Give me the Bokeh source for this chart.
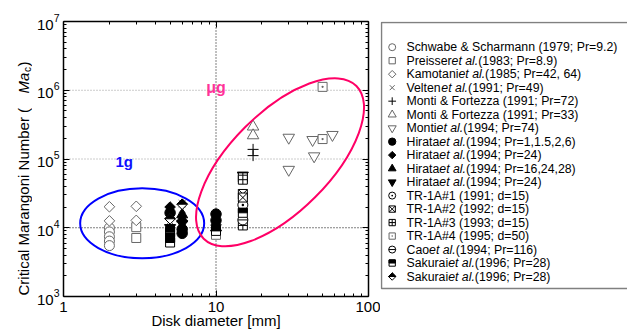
import math
from bokeh.plotting import figure
from bokeh.models import (Range1d, FixedTicker, LogAxis, Span,
                          PrintfTickFormatter, LogTickFormatter)
from bokeh.layouts import row
from bokeh.core.properties import value
from bokeh.embed import file_html
from bokeh.resources import INLINE

# ---------------- data ----------------
x_ticks = [1, 10, 100]
y_ticks = [1e3, 1e4, 1e5, 1e6, 1e7]

schwabe_x = [2, 2, 2, 2, 2]
schwabe_y = [10000, 8700, 7400, 6400, 5500]
preisser_x = [3, 3, 10]
preisser_y = [10200, 7100, 7900]
kamotani_x = [2, 2, 3, 3]
kamotani_y = [20200, 12600, 20500, 12800]
velten_x = [5, 6, 6]
velten_y = [12500, 22500, 18500]
monti72_x = [17.5, 17.5]
monti72_y = [138000, 112000]
monti33_x = [17.5, 17.5]
monti33_y = [295000, 220000]
monti94_x = [30, 30, 43, 44, 58]
monti94_y = [205000, 70000, 190000, 110000, 225000]
hirata_c_x = [5, 6, 6, 10, 10]
hirata_c_y = [16500, 9500, 8300, 15800, 12800]
hirata_d_x = [5, 10]
hirata_d_y = [20000, 11000]
hirata_t_x = [6, 6, 10]
hirata_t_y = [15500, 13500, 10000]
hirata_v_x = [5, 6, 15]
hirata_v_y = [10000, 11500, 58000]
tr1_x = [15]
tr1_y = [21500]
tr2_x = [15, 15]
tr2_y = [31000, 27500]
tr3_x = [15, 15, 15]
tr3_y = [54000, 50000, 10800]
tr4_x = [50, 50]
tr4_y = [1120000, 195000]
cao_x = [15]
cao_y = [13000]
sakurai1_x = [5, 5, 5, 10, 15]
sakurai1_y = [8700, 7200, 6100, 9000, 16500]
sakurai2_x = [5, 6]
sakurai2_y = [13500, 22000]

legend_labels = [
    "Schwabe & Scharmann (1979; Pr=9.2)",
    "Preisseret al.(1983; Pr=8.9)",
    "Kamotaniet al.(1985; Pr=42, 64)",
    "Veltenet al.(1991; Pr=49)",
    "Monti & Fortezza (1991; Pr=72)",
    "Monti & Fortezza (1991; Pr=33)",
    "Montiet al.(1994; Pr=74)",
    "Hirataet al.(1994; Pr=1,1.5,2,6)",
    "Hirataet al.(1994; Pr=24)",
    "Hirataet al.(1994; Pr=16,24,28)",
    "Hirataet al.(1994; Pr=24)",
    "TR-1A#1 (1991; d=15)",
    "TR-1A#2 (1992; d=15)",
    "TR-1A#3 (1993; d=15)",
    "TR-1A#4 (1995; d=50)",
    "Caoet al.(1994; Pr=116)",
    "Sakuraiet al.(1996; Pr=28)",
    "Sakuraiet al.(1996; Pr=28)",
]

x_title = "Disk diameter [mm]"
y_title_parts = ["Critical Marangoni Number (", "Ma", "c", " )"]

region_labels = ["1g", "\u03bcg"]
region_x = [2.5, 10]
region_y = [91000, 1090000]
ellipse_x = [3.28, 26.3]
ellipse_y = [11600, 89500]

# ---------------- styles ----------------
GRAY = "#666666"
FONT = "Liberation Sans"
series = [
    (schwabe_x, schwabe_y, "o"),
    (preisser_x, preisser_y, "s"),
    (kamotani_x, kamotani_y, "d"),
    (velten_x, velten_y, "x"),
    (monti72_x, monti72_y, "+"),
    (monti33_x, monti33_y, "t"),
    (monti94_x, monti94_y, "v"),
    (hirata_c_x, hirata_c_y, "O"),
    (hirata_d_x, hirata_d_y, "D"),
    (hirata_t_x, hirata_t_y, "T"),
    (hirata_v_x, hirata_v_y, "V"),
    (tr1_x, tr1_y, "cdot"),
    (tr2_x, tr2_y, "sx"),
    (tr3_x, tr3_y, "scross"),
    (tr4_x, tr4_y, "sdot"),
    (cao_x, cao_y, "cminus"),
    (sakurai1_x, sakurai1_y, "shalf"),
    (sakurai2_x, sakurai2_y, "dhalf"),
]


def draw_marker(fig, xs, ys, kind, size, sx, sy):
    xs = list(xs); ys = list(ys)
    lw = 1
    if kind == "o":
        fig.scatter(xs, ys, marker="circle", size=size, fill_color="white", line_color=GRAY, line_width=lw)
    elif kind == "s":
        fig.scatter(xs, ys, marker="square", size=size * 0.9, fill_color="white", line_color=GRAY, line_width=lw)
    elif kind == "d":
        fig.scatter(xs, ys, marker="square", angle=math.pi / 4, size=size * 0.75, fill_color="white", line_color=GRAY, line_width=lw)
    elif kind == "x":
        fig.scatter(xs, ys, marker="x", size=size, line_color=GRAY, line_width=lw)
    elif kind == "+":
        fig.scatter(xs, ys, marker="cross", size=size * 1.1, line_color="black", line_width=lw)
    elif kind == "t":
        fig.scatter(xs, ys, marker="triangle", size=size * 1.15, fill_color="white", line_color=GRAY, line_width=lw)
    elif kind == "v":
        fig.scatter(xs, ys, marker="inverted_triangle", size=size * 1.15, fill_color="white", line_color=GRAY, line_width=lw)
    elif kind == "O":
        fig.scatter(xs, ys, marker="circle", size=size * 1.05, fill_color="black", line_color="black", line_width=lw)
    elif kind == "D":
        fig.scatter(xs, ys, marker="square", angle=math.pi / 4, size=size * 0.75, fill_color="black", line_color="black", line_width=lw)
    elif kind == "T":
        fig.scatter(xs, ys, marker="triangle", size=size * 1.1, fill_color="black", line_color="black", line_width=lw)
    elif kind == "V":
        fig.scatter(xs, ys, marker="inverted_triangle", size=size * 1.1, fill_color="black", line_color="black", line_width=lw)
    elif kind == "cdot":
        fig.scatter(xs, ys, marker="circle_dot", size=size, fill_color="white", line_color="black", line_width=lw)
    elif kind == "sx":
        fig.scatter(xs, ys, marker="square_x", size=size * 0.9, fill_color="white", line_color="black", line_width=lw)
    elif kind == "scross":
        fig.scatter(xs, ys, marker="square_cross", size=size * 0.9, fill_color="white", line_color="black", line_width=lw)
    elif kind == "sdot":
        fig.scatter(xs, ys, marker="square_dot", size=size * 0.9, fill_color="white", line_color=GRAY, line_width=lw)
    elif kind == "cminus":
        fig.scatter(xs, ys, marker="circle", size=size, fill_color="white", line_color="black", line_width=lw)
        fig.scatter(xs, ys, marker="dash", size=size, line_color="black", line_width=lw)
    elif kind == "shalf":
        s = size * 0.9
        fig.scatter(xs, ys, marker="square", size=s, fill_color="white", line_color="black", line_width=lw)
        h = s / 2
        fig.quad(left=[sx(x, -h) for x in xs], right=[sx(x, h) for x in xs],
                 bottom=ys, top=[sy(y, h) for y in ys],
                 fill_color="black", line_color="black", line_width=lw)
    elif kind == "dhalf":
        s = size * 0.75
        fig.scatter(xs, ys, marker="square", angle=math.pi / 4, size=s, fill_color="white", line_color="black", line_width=lw)
        r = s * 0.7071
        fig.patches(xs=[[sx(x, -r), x, sx(x, r)] for x in xs],
                    ys=[[y, sy(y, r), y] for y in ys],
                    fill_color="black", line_color="black", line_width=lw)


H_ALL = 333
BT, BB = 21, 37          # shared top / bottom borders (frames are aligned in the row)

# ---------------- y title panel ----------------
W_YT = 32
yt = figure(width=W_YT, height=H_ALL, x_range=Range1d(0, W_YT), y_range=Range1d(BB, H_ALL - BT),
            output_backend="svg", toolbar_location=None, title=None,
            x_axis_location=None, y_axis_location=None,
            min_border_left=0, min_border_right=0, min_border_top=BT, min_border_bottom=BB)
yt.outline_line_color = None
yt.xgrid.visible = False
yt.ygrid.visible = False
YX = 22.5
# positions along the (rotated) title, as page y of each piece's start
piece_page_y = [295, 93, 71.5, 66]
yt.text(x=[YX], y=[H_ALL - piece_page_y[0]], text=[y_title_parts[0]], angle=math.pi / 2,
        text_font=value(FONT), text_font_size="15px", text_align="left", text_baseline="middle",
        text_color="black")
yt.text(x=[YX], y=[H_ALL - piece_page_y[1]], text=[y_title_parts[1]], angle=math.pi / 2,
        text_font=value(FONT), text_font_style="italic", text_font_size="15px",
        text_align="left", text_baseline="middle", text_color="black")
yt.text(x=[YX + 4], y=[H_ALL - piece_page_y[2]], text=[y_title_parts[2]], angle=math.pi / 2,
        text_font=value(FONT), text_font_size="10px", text_align="left", text_baseline="middle",
        text_color="black")
yt.text(x=[YX], y=[H_ALL - piece_page_y[3]], text=[y_title_parts[3]], angle=math.pi / 2,
        text_font=value(FONT), text_font_size="15px", text_align="left", text_baseline="middle",
        text_color="black")

# ---------------- main plot ----------------
W_MAIN = 380 - W_YT
BL, BR = 63 - W_YT, 12
frame_w = W_MAIN - BL - BR
frame_h = H_ALL - BT - BB
px_dec_x = frame_w / 2.0
px_dec_y = frame_h / 4.0

p = figure(width=W_MAIN, height=H_ALL, x_axis_type="log", y_axis_type="log",
           x_range=Range1d(1, 100), y_range=Range1d(1e3, 1e7),
           output_backend="svg", toolbar_location=None, title=None,
           min_border_left=BL, min_border_right=BR, min_border_top=BT, min_border_bottom=BB)
p.outline_line_color = None
p.xgrid.visible = False
p.ygrid.visible = False

x_minor = [k * 10 ** e for e in (0, 1) for k in range(2, 10)]
y_minor = [k * 10 ** e for e in (3, 4, 5, 6) for k in range(2, 10)]

for ax in (p.xaxis[0], p.yaxis[0]):
    ax.major_tick_in = 6
    ax.major_tick_out = 0
    ax.minor_tick_in = 3
    ax.minor_tick_out = 0
    ax.axis_line_width = 1.5
    ax.major_tick_line_width = 1
    ax.major_label_text_font = FONT
    ax.major_label_text_font_size = "15px"
    ax.major_label_text_color = "black"

p.xaxis[0].major_label_standoff = 5
p.yaxis[0].major_label_standoff = 4
p.xaxis[0].ticker = FixedTicker(ticks=x_ticks, minor_ticks=x_minor)
p.xaxis[0].formatter = PrintfTickFormatter(format="%d")
p.xaxis[0].axis_label = x_title
p.xaxis[0].axis_label_text_font = FONT
p.xaxis[0].axis_label_text_font_size = "15px"
p.xaxis[0].axis_label_text_font_style = "normal"
p.xaxis[0].axis_label_text_color = "black"
p.xaxis[0].axis_label_standoff = -3
p.yaxis[0].ticker = FixedTicker(ticks=y_ticks, minor_ticks=y_minor)
p.yaxis[0].formatter = LogTickFormatter()

top_ax = LogAxis(ticker=FixedTicker(ticks=x_ticks, minor_ticks=x_minor),
                 major_label_text_font_size="1px", major_label_text_alpha=0, major_label_standoff=0,
                 major_tick_in=6, major_tick_out=0, minor_tick_in=3, minor_tick_out=0,
                 axis_line_width=1.5)
right_ax = LogAxis(ticker=FixedTicker(ticks=y_ticks, minor_ticks=y_minor),
                   major_label_text_font_size="1px", major_label_text_alpha=0, major_label_standoff=0,
                   major_tick_in=6, major_tick_out=0, minor_tick_in=3, minor_tick_out=0,
                   axis_line_width=1.5)
p.add_layout(top_ax, "above")
p.add_layout(right_ax, "right")

# reference lines
p.add_layout(Span(location=1e5, dimension="width", line_color="#999999", line_dash="1 2", line_width=1, level="underlay"))
p.add_layout(Span(location=1e6, dimension="width", line_color="#999999", line_dash="1 2", line_width=1, level="underlay"))
p.add_layout(Span(location=1e4, dimension="width", line_color="black", line_dash="1 2", line_width=1, level="underlay"))
p.add_layout(Span(location=10, dimension="height", line_color="black", line_dash="1 2", line_width=1, level="underlay"))


def sx_log(x, d):
    return x * 10 ** (d / px_dec_x)


def sy_log(y, d):
    return y * 10 ** (d / px_dec_y)


for xs, ys, kind in series:
    draw_marker(p, xs, ys, kind, 10, sx_log, sy_log)

# region ellipses
p.ellipse(x=ellipse_x[:1], y=ellipse_y[:1], width=124, height=70, width_units="screen",
          height_units="screen", fill_color=None, line_color="#0000ff", line_width=2)
p.ellipse(x=ellipse_x[1:], y=ellipse_y[1:], width=216, height=99, angle=math.pi / 4,
          width_units="screen", height_units="screen", fill_color=None,
          line_color="#ff0066", line_width=2)
p.text(x=region_x[:1], y=region_y[:1], text=region_labels[:1], text_color="#1010ff",
       text_font=value(FONT), text_font_style="bold", text_font_size="15px",
       text_align="center", text_baseline="middle")
p.text(x=region_x[1:], y=region_y[1:], text=region_labels[1:], text_color="#ff3399",
       text_font=value(FONT), text_font_style="bold", text_font_size="16px",
       text_align="center", text_baseline="middle")

# ---------------- legend panel ----------------
AW = {' ': 278, '!': 278, '#': 556, '&': 667, '(': 333, ')': 333, ',': 278, '-': 333, '.': 278,
      ';': 278, '=': 584, 'A': 667, 'C': 722, 'F': 611, 'H': 722, 'K': 667, 'M': 833, 'P': 667,
      'R': 722, 'S': 667, 'T': 611, 'V': 667, 'a': 556, 'b': 556, 'c': 500, 'd': 556, 'e': 556,
      'g': 556, 'h': 556, 'i': 222, 'k': 500, 'l': 222, 'm': 833, 'n': 556, 'o': 556, 'r': 333,
      's': 500, 't': 278, 'u': 556, 'w': 722, 'z': 500}


def tw(s, fs):
    return sum(AW.get(c, 556) for c in s) * fs / 1000.0


W_LEG = 627 - 380
row_px = 13.49
row0_page = 46.7            # page y of first legend row
box_top_page, box_bottom_page = 22, 288


def page_to_row(yp):
    return (yp - row0_page) / row_px


lg = figure(width=W_LEG, height=H_ALL, x_range=Range1d(0, W_LEG),
            y_range=Range1d(page_to_row(H_ALL - BB), page_to_row(BT)),
            output_backend="svg", toolbar_location=None, title=None,
            x_axis_location=None, y_axis_location=None,
            min_border_left=0, min_border_right=0, min_border_top=BT, min_border_bottom=BB)
lg.xgrid.visible = False
lg.ygrid.visible = False
lg.outline_line_color = None

# legend frame (open to the right, as in the original)
lg.quad(left=[1.0], right=[W_LEG + 20], top=[page_to_row(box_top_page)],
        bottom=[page_to_row(box_bottom_page)], fill_color="white", line_color="#808080",
        line_width=1.5)

MX = 11.7
TX = 26.0
LFS = 12.3


def sx_lin(x, d):
    return x + d


def sy_lin(y, d):
    return y - d / row_px


for i, (xs, ys, kind) in enumerate(series):
    draw_marker(lg, [MX], [i], kind, 7, sx_lin, sy_lin)

nx, ny, nt, ix, iy, it = [], [], [], [], [], []
for i, lab in enumerate(legend_labels):
    x = TX
    if "et al." in lab:
        pre, post = lab.split("et al.", 1)
        nx.append(x); ny.append(i); nt.append(pre)
        x += tw(pre, LFS)
        ix.append(x); iy.append(i); it.append("et al.")
        x += tw("et al.", LFS)
        nx.append(x); ny.append(i); nt.append(post)
    else:
        nx.append(x); ny.append(i); nt.append(lab)

lg.text(x=nx, y=ny, text=nt, text_font=value(FONT), text_font_size="%.1fpx" % LFS,
        text_color="black", text_baseline="middle", text_align="left")
lg.text(x=ix, y=iy, text=it, text_font=value(FONT), text_font_size="%.1fpx" % LFS,
        text_font_style="italic", text_color="black", text_baseline="middle", text_align="left")

layout = row(yt, p, lg)
open("out.html", "w").write(file_html(layout, INLINE))
